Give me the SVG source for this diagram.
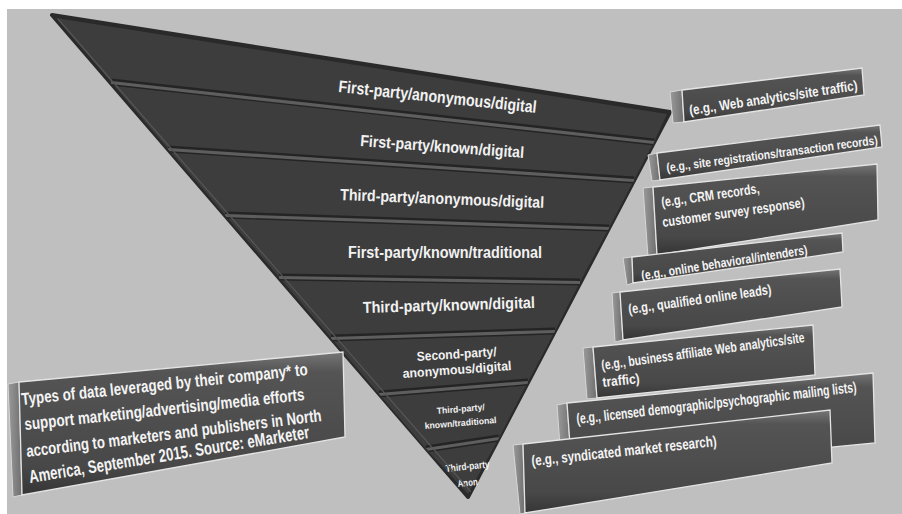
<svg xmlns="http://www.w3.org/2000/svg" width="902" height="514" viewBox="0 0 902 514">
<defs>
<style>
.band{fill:#3d3d3d;}
.sepd{stroke:#242424;stroke-width:7;fill:none;}
.sepl{stroke:#5e5e5e;stroke-width:3.2;fill:none;}
.pt{fill:#f2f2f2;font-family:"Liberation Sans",Arial,sans-serif;font-weight:bold;}
.side{fill:url(#sideg);stroke:#d6d6d6;stroke-width:1;}
.front{fill:url(#frontg);stroke:#e4e4e4;stroke-width:1.3;}
.bt{fill:#f4f4f4;font-family:"Liberation Sans",Arial,sans-serif;font-weight:bold;}
</style>
<linearGradient id="frontg" x1="0" y1="0" x2="0" y2="1">
<stop offset="0" stop-color="#767676"/>
<stop offset="0.14" stop-color="#545454"/>
<stop offset="0.8" stop-color="#484848"/>
<stop offset="1" stop-color="#353535"/>
</linearGradient>
<linearGradient id="sideg" x1="0" y1="0" x2="1" y2="0">
<stop offset="0" stop-color="#9a9a9a"/>
<stop offset="1" stop-color="#6e6e6e"/>
</linearGradient>
<clipPath id="pyrclip"><polygon points="52,15 670,112 468,497"/></clipPath>
</defs>

<rect x="0" y="0" width="902" height="514" fill="#ffffff"/>
<rect x="7" y="9" width="895" height="505" fill="#bfbfbf"/>

<g id="pyramid">
<polygon points="52,15 670,112 468,497" fill="#2a2a2a" stroke="#2a2a2a" stroke-width="4" stroke-linejoin="round"/>
<g id="band1"><polygon class="band" points="56,18 667,114 654,142 111,82"/>
<text class="pt" font-size="17" transform="translate(338,92) rotate(6.05)" textLength="199" lengthAdjust="spacingAndGlyphs">First-party/anonymous/digital</text></g>
<g id="band2"><polygon class="band" points="111,82 654,142 634,180 168,149"/>
<text class="pt" font-size="16" transform="translate(360,146) rotate(4.19)" textLength="164" lengthAdjust="spacingAndGlyphs">First-party/known/digital</text></g>
<g id="band3"><polygon class="band" points="168,149 634,180 609,228 225,215"/>
<text class="pt" font-size="16" transform="translate(340,200) rotate(2.25)" textLength="204" lengthAdjust="spacingAndGlyphs">Third-party/anonymous/digital</text></g>
<g id="band4"><polygon class="band" points="225,215 609,228 580,282 279,277"/>
<text class="pt" font-size="16" transform="translate(348,258)" textLength="194" lengthAdjust="spacingAndGlyphs">First-party/known/traditional</text></g>
<g id="band5"><polygon class="band" points="279,277 580,282 555,331 331,338"/>
<text class="pt" font-size="16" transform="translate(363,313) rotate(-1.67)" textLength="172" lengthAdjust="spacingAndGlyphs">Third-party/known/digital</text></g>
<g id="band6"><polygon class="band" points="331,338 555,331 528,382 379,394"/>
<text class="pt" font-size="13" transform="translate(417,361) rotate(-3.6)" textLength="80" lengthAdjust="spacingAndGlyphs">Second-party/</text>
<text class="pt" font-size="13" transform="translate(403,378) rotate(-4.2)" textLength="109" lengthAdjust="spacingAndGlyphs">anonymous/digital</text></g>
<g id="band7"><polygon class="band" points="379,394 528,382 499,438 426,449"/>
<text class="pt" font-size="9" transform="translate(437,414) rotate(-4.8)" textLength="48" lengthAdjust="spacingAndGlyphs">Third-party/</text>
<text class="pt" font-size="9" transform="translate(425,429) rotate(-4.8)" textLength="72" lengthAdjust="spacingAndGlyphs">known/traditional</text></g>
<g id="band8"><polygon class="band" points="426,449 499,438 468,494"/>
<text class="pt" font-size="10" transform="translate(446,472) rotate(-6)" textLength="44" lengthAdjust="spacingAndGlyphs">Third-party</text>
<text class="pt" font-size="10" transform="translate(458,487) rotate(-6)" textLength="20" lengthAdjust="spacingAndGlyphs">Anon</text></g>
<g clip-path="url(#pyrclip)">
<path class="sepd" d="M111,82 L654,142 M168,149 L634,180 M225,215 L609,228 M279,277 L580,282 M331,338 L555,331 M379,394 L528,382 M426,449 L499,438"/>
<path class="sepl" d="M111,82.5 L654,142.5 M168,149.5 L634,180.5 M225,215.5 L609,228.5 M279,277.5 L580,282.5 M331,338.5 L555,331.5 M379,394.5 L528,382.5 M426,449.5 L499,438.5"/>
<path d="M58,19 L471,492" stroke="#555555" stroke-width="1.2" fill="none"/>
</g>
</g>

<g id="connectors"></g>

<g id="note">
<polygon class="side" points="8,384 19,382 22,495 13,497"/>
<polygon class="front" points="19,382 343,352 345,437 22,495"/>
<text class="bt" font-size="17" transform="translate(22,405) rotate(-5.99)" textLength="287.6" lengthAdjust="spacingAndGlyphs">Types of data leveraged by their company* to</text>
<text class="bt" font-size="17" transform="translate(25,430) rotate(-6.12)" textLength="281.6" lengthAdjust="spacingAndGlyphs">support marketing/advertising/media efforts</text>
<text class="bt" font-size="17" transform="translate(27,457) rotate(-6.96)" textLength="297.2" lengthAdjust="spacingAndGlyphs">according to marketers and publishers in North</text>
<text class="bt" font-size="18" transform="translate(30,483) rotate(-9.13)" textLength="283.6" lengthAdjust="spacingAndGlyphs">America, September 2015. Source: eMarketer</text>
</g>

<g id="ex1">
<polygon class="side" points="670,92 682,90 684,122 673,123"/>
<polygon class="front" points="682,90 862,68 864,95 684,122"/>
<text class="bt" font-size="14" transform="translate(690,115) rotate(-8.46)" textLength="169.8" lengthAdjust="spacingAndGlyphs">(e.g., Web analytics/site traffic)</text>
</g>
<g id="ex2">
<polygon class="side" points="648,155 657,153 660,180 652,181"/>
<polygon class="front" points="657,153 880,125 882,147 660,180"/>
<text class="bt" font-size="12.5" transform="translate(667,172) rotate(-7.49)" textLength="213" lengthAdjust="spacingAndGlyphs">(e.g., site registrations/transaction records)</text>
</g>
<g id="ex3">
<polygon class="side" points="643,188 653,187 657,255 648,257"/>
<polygon class="front" points="653,187 877,164 878,220 657,255"/>
<text class="bt" font-size="14" transform="translate(662,207) rotate(-8.1)" textLength="99" lengthAdjust="spacingAndGlyphs">(e.g., CRM records,</text>
<text class="bt" font-size="14" transform="translate(663,227) rotate(-8.0)" textLength="143.4" lengthAdjust="spacingAndGlyphs">customer survey response)</text>
</g>
<g id="ex4">
<polygon class="side" points="623,258 632,257 633,283 627,285"/>
<polygon class="front" points="632,257 842,233 843,252 633,283"/>
<text class="bt" font-size="13" transform="translate(642,280) rotate(-8.9)" textLength="168" lengthAdjust="spacingAndGlyphs">(e.g., online behavioral/intenders)</text>
</g>
<g id="ex5">
<polygon class="side" points="612,293 620,292 623,340 615,342"/>
<polygon class="front" points="620,292 840,269 842,307 623,340"/>
<text class="bt" font-size="14" transform="translate(629,314) rotate(-7.96)" textLength="144.4" lengthAdjust="spacingAndGlyphs">(e.g., qualified online leads)</text>
</g>
<g id="ex6">
<polygon class="side" points="583,348 593,347 597,398 587,399"/>
<polygon class="front" points="593,347 813,325 815,375 597,398"/>
<text class="bt" font-size="14" transform="translate(602,370) rotate(-7.85)" textLength="204.9" lengthAdjust="spacingAndGlyphs">(e.g., business affiliate Web analytics/site</text>
<text class="bt" font-size="14" transform="translate(603,387) rotate(-6.2)" textLength="37.2" lengthAdjust="spacingAndGlyphs">traffic)</text>
</g>
<g id="ex7">
<polygon class="side" points="557,405 567,403 572,472 562,474"/>
<polygon class="front" points="567,403 873,373 875,443 572,472"/>
<text class="bt" font-size="15" transform="translate(577,424) rotate(-6.52)" textLength="281.8" lengthAdjust="spacingAndGlyphs">(e.g., licensed demographic/psychographic mailing lists)</text>
</g>
<g id="ex8">
<polygon class="side" points="513,445 523,444 525,513 520,514"/>
<polygon class="front" points="523,444 830,410 832,463 525,513"/>
<text class="bt" font-size="15" transform="translate(532,466) rotate(-6.17)" textLength="186.1" lengthAdjust="spacingAndGlyphs">(e.g., syndicated market research)</text>
</g>
</svg>
